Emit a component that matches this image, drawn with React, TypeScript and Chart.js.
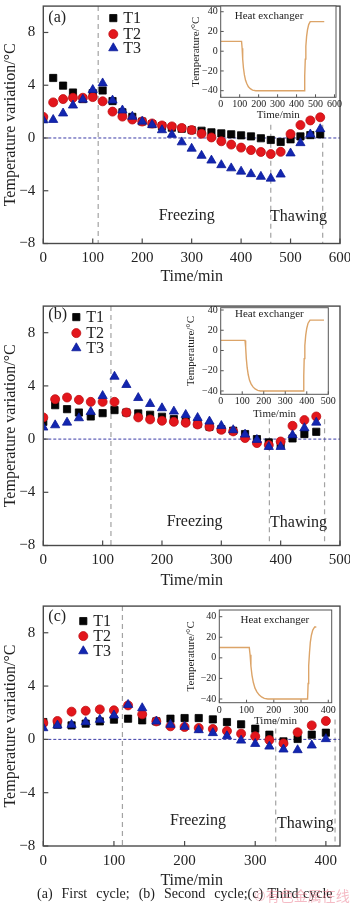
import React, { useEffect, useRef } from "react";
import { Chart, registerables } from "chart.js";

Chart.register(...registerables);

const FONT = '"Liberation Serif", "Times New Roman", Times, serif';
const TEXT = "#222";

// ---------------- data: main panels ----------------
const TIME_A = [0, 20, 40, 60, 80, 100, 120, 140, 160, 180, 200, 220, 240, 260, 280, 300, 320, 340, 360, 380, 400, 420, 440, 460, 480, 500, 520, 540, 560];
const T1_A = [1.45, 4.55, 3.97, 3.45, 2.95, 3.4, 3.6, 2.8, 1.95, 1.6, 1.25, 1.05, 0.9, 0.78, 0.7, 0.6, 0.55, 0.43, 0.35, 0.28, 0.2, 0.12, -0.02, -0.15, -0.3, -0.1, 0.12, 0.22, 0.28];
const T2_A = [1.6, 2.7, 2.95, 3.05, 3.05, 3.1, 2.78, 2.0, 1.62, 1.4, 1.25, 1.1, 0.95, 0.88, 0.76, 0.6, 0.32, 0.04, -0.25, -0.5, -0.73, -0.92, -1.06, -1.22, -1.05, 0.3, 0.98, 1.33, 1.57];
const T3_A = [1.35, 1.38, 1.87, 2.47, 2.92, 3.65, 4.15, 2.85, 2.1, 1.62, 1.25, 1.0, 0.6, 0.25, -0.32, -0.8, -1.34, -1.7, -2.05, -2.29, -2.54, -2.73, -2.93, -3.07, -2.76, -1.16, -0.38, 0.28, 0.68];

const TIME_B = [0, 20, 40, 60, 80, 100, 120, 140, 160, 180, 200, 220, 240, 260, 280, 300, 320, 340, 360, 380, 400, 420, 440, 460];
const T1_B = [1.3, 2.55, 2.25, 2.0, 1.7, 1.95, 2.18, 2.0, 1.93, 1.83, 1.68, 1.5, 1.33, 1.13, 0.93, 0.75, 0.63, 0.38, 0.0, -0.25, -0.43, 0.05, 0.38, 0.55];
const T2_B = [1.63, 3.0, 3.13, 2.95, 2.8, 2.8, 2.8, 2.0, 1.63, 1.48, 1.38, 1.3, 1.23, 1.1, 0.93, 0.7, 0.58, 0.08, -0.3, -0.45, -0.18, 1.0, 1.43, 1.7];
const T3_B = [0.88, 1.05, 1.25, 1.58, 2.05, 3.25, 4.7, 4.08, 3.1, 2.65, 2.33, 2.08, 1.83, 1.6, 1.33, 1.0, 0.68, 0.35, -0.05, -0.58, -0.58, 0.3, 0.83, 1.25];

const TIME_C = [0, 20, 40, 60, 80, 100, 120, 140, 160, 180, 200, 220, 240, 260, 280, 300, 320, 340, 360, 380, 400];
const T1_C = [1.3, 1.1, 1.05, 1.18, 1.35, 1.48, 1.55, 1.43, 1.35, 1.55, 1.6, 1.6, 1.5, 1.3, 1.13, 0.8, 0.35, -0.15, 0.03, 0.35, 0.5];
const T2_C = [1.23, 1.38, 2.08, 2.15, 2.25, 2.18, 2.55, 1.88, 1.35, 0.98, 0.93, 0.85, 0.78, 0.63, 0.43, 0.23, -0.05, -0.3, 0.53, 1.05, 1.38];
const T3_C = [0.85, 1.05, 1.1, 1.3, 1.48, 1.8, 2.6, 2.35, 1.35, 1.1, 0.95, 0.7, 0.48, 0.25, -0.08, -0.33, -0.53, -0.75, -0.8, -0.45, 0.03];

const X_TICKS_A = [0, 100, 200, 300, 400, 500, 600];
const X_TICKS_B = [0, 100, 200, 300, 400, 500];
const X_TICKS_C = [0, 100, 200, 300, 400];
const Y_TICKS = [-8, -4, 0, 4, 8];

const SERIES_NAMES = ["T1", "T2", "T3"];
const PANEL_LABELS = ["(a)", "(b)", "(c)"];
const PHASE_LABELS = ["Freezing", "Thawing"];

// phase boundary times (dashed lines)
const BOUNDS_A = [111, 460, 565];
const BOUNDS_B = [114, 381, 474];
const BOUNDS_C = [112, 329, 413];

// ---------------- data: heat exchanger insets ----------------
const HX_TIME_A = [0, 110, 113, 116, 120, 125, 131, 138, 146, 156, 168, 185, 440, 443, 446, 449, 453, 458, 464, 472, 546];
const HX_TEMP_A = [10, 10, 3, -8, -17, -24, -29.5, -33, -36, -38, -39.4, -40, -40, -25, -8, 5, 15, 22, 27, 30, 30];
const HX_TIME_B = [0, 113, 116, 119, 123, 128, 134, 141, 150, 160, 172, 185, 384, 386, 388, 391, 395, 400, 406, 415, 480];
const HX_TEMP_B = [10, 10, 3, -8, -17, -24, -29.5, -33, -36, -38, -39.4, -40, -40, -25, -8, 5, 15, 22, 27, 30, 30];
const HX_TIME_C = [0, 110, 113, 116, 120, 125, 131, 138, 146, 155, 165, 178, 324, 326, 328, 331, 334, 338, 343, 350, 356];
const HX_TEMP_C = [10, 10, 3, -8, -17, -24, -29.5, -33, -36, -38, -39.4, -40, -40, -25, -8, 5, 15, 22, 27, 30, 30];

const INSET_X_TICKS_A = [0, 100, 200, 300, 400, 500, 600];
const INSET_X_TICKS_B = [0, 100, 200, 300, 400, 500];
const INSET_X_TICKS_C = [0, 100, 200, 300, 400];
const INSET_Y_TICKS = [-40, -20, 0, 20, 40];
const INSET_TITLE = "Heat exchanger";

const CAPTION = "(a)  First  cycle;  (b)  Second  cycle;(c) Third cycle";
const WATERMARK = "©有色金属在线";

// ---------------- styles / layout ----------------
const SERIES_STYLE = [
  { style: "rect", r: 5.1, fill: "#050505", stroke: "#000000" },
  { style: "circle", r: 4.5, fill: "#e3161c", stroke: "#c00e12" },
  { style: "triangle", r: 5.3, fill: "#1226b0", stroke: "#0c1a98" },
];

const PANELS = [
  {
    time: TIME_A, series: [T1_A, T2_A, T3_A], xTicks: X_TICKS_A, xMax: 600, bounds: BOUNDS_A, boundTop: 1.0,
    label: PANEL_LABELS[0], top: 0, h: 286, padTop: 2, xAxisH: 42.5,
    legend: { dx: 70, dy: [12, 28, 42] }, labelDy: 12,
    phasePos: [[290, -5.9], [516, -6.0]],
  },
  {
    time: TIME_B, series: [T1_B, T2_B, T3_B], xTicks: X_TICKS_B, xMax: 500, bounds: BOUNDS_B, boundTop: 1.5,
    label: PANEL_LABELS[1], top: 300, h: 290, padTop: 3.8, xAxisH: 44.5,
    legend: { dx: 33, dy: [11, 27, 42] }, labelDy: 9,
    phasePos: [[255, -6.2], [430, -6.3]],
  },
  {
    time: TIME_C, series: [T1_C, T2_C, T3_C], xTicks: X_TICKS_C, xMax: 420, bounds: BOUNDS_C, boundTop: 1.5,
    label: PANEL_LABELS[2], top: 600, h: 290, padTop: 6, xAxisH: 44,
    legend: { dx: 40, dy: [15, 30, 45] }, labelDy: 11,
    phasePos: [[219, -6.1], [371, -6.3]],
  },
];

const INSETS = [
  { time: HX_TIME_A, temp: HX_TEMP_A, xTicks: INSET_X_TICKS_A, xMax: 608, yMin: -46.7, yMax: 45.8,
    left: 190, top: 0, w: 160, h: 122, yAxisW: 30.7, padRight: 14, padTop: 6, xAxisH: 24.7, titlePos: [255, 36] },
  { time: HX_TIME_B, temp: HX_TEMP_B, xTicks: INSET_X_TICKS_B, xMax: 500, yMin: -43.3, yMax: 42.3,
    left: 185, top: 300, w: 165, h: 121, yAxisW: 35.7, padRight: 21.7, padTop: 7.7, xAxisH: 26.7, titlePos: [226, 36] },
  { time: HX_TIME_C, temp: HX_TEMP_C, xTicks: INSET_X_TICKS_C, xMax: 412.5, yMin: -43.6, yMax: 46.5,
    left: 185, top: 600, w: 165, h: 128, yAxisW: 34.3, padRight: 18.3, padTop: 10, xAxisH: 25.3, titlePos: [204, 36.8] },
];

function drawMarker(ctx: CanvasRenderingContext2D, s: any, x: number, y: number) {
  ctx.beginPath();
  const r = s.r;
  if (s.style === "rect") {
    const h = r * Math.SQRT1_2;
    ctx.rect(x - h, y - h, 2 * h, 2 * h);
  } else if (s.style === "circle") {
    ctx.arc(x, y, r, 0, Math.PI * 2);
  } else {
    ctx.moveTo(x, y - r);
    ctx.lineTo(x + r * 0.866, y + r * 0.5);
    ctx.lineTo(x - r * 0.866, y + r * 0.5);
    ctx.closePath();
  }
  ctx.fillStyle = s.fill;
  ctx.strokeStyle = s.stroke;
  ctx.lineWidth = 0.8;
  ctx.fill();
  ctx.stroke();
}

function makePanelPlugin(cfg: any) {
  return {
    id: "panelDecor",
    beforeDatasetsDraw(chart: any) {
      const { ctx, chartArea: ca, scales } = chart;
      const x = scales.x, y = scales.y;
      ctx.save();
      ctx.strokeStyle = "#a3a3a3";
      ctx.lineWidth = 1.2;
      ctx.setLineDash([5, 4]);
      cfg.bounds.forEach((b: number, i: number) => {
        const px = x.getPixelForValue(b);
        ctx.beginPath();
        ctx.moveTo(px, i === 0 ? ca.top : y.getPixelForValue(cfg.boundTop));
        ctx.lineTo(px, ca.bottom);
        ctx.stroke();
      });
      ctx.strokeStyle = "#3a3aa6";
      ctx.lineWidth = 1;
      ctx.setLineDash([3, 2]);
      const py = y.getPixelForValue(0);
      ctx.beginPath();
      ctx.moveTo(x.getPixelForValue(0), py);
      ctx.lineTo(ca.right, py);
      ctx.stroke();
      ctx.restore();
    },
    afterDatasetsDraw(chart: any) {
      const { ctx, chartArea: ca, scales } = chart;
      const x = scales.x, y = scales.y;
      ctx.save();
      ctx.strokeStyle = "#4a4a4a";
      ctx.lineWidth = 1.4;
      ctx.strokeRect(ca.left, ca.top, ca.right - ca.left, ca.bottom - ca.top);
      ctx.lineWidth = 1.2;
      cfg.xTicks.forEach((t: number) => {
        const px = x.getPixelForValue(t);
        ctx.beginPath();
        ctx.moveTo(px, ca.bottom);
        ctx.lineTo(px, ca.bottom - 5);
        ctx.stroke();
      });
      Y_TICKS.forEach((t: number) => {
        const pv = y.getPixelForValue(t);
        ctx.beginPath();
        ctx.moveTo(ca.left, pv);
        ctx.lineTo(ca.left + 5, pv);
        ctx.stroke();
      });
      ctx.fillStyle = TEXT;
      ctx.font = `normal 16px ${FONT}`;
      ctx.textAlign = "center";
      ctx.textBaseline = "middle";
      PHASE_LABELS.forEach((lab, i) => {
        const [tx, ty] = cfg.phasePos[i];
        ctx.fillText(lab, x.getPixelForValue(tx), y.getPixelForValue(ty));
      });
      ctx.textAlign = "left";
      ctx.fillText(cfg.label, ca.left + 5, ca.top + cfg.labelDy);
      SERIES_NAMES.forEach((name, i) => {
        const mx = ca.left + cfg.legend.dx;
        const my = ca.top + cfg.legend.dy[i];
        drawMarker(ctx, SERIES_STYLE[i], mx, my);
        ctx.fillStyle = TEXT;
        ctx.textAlign = "left";
        ctx.fillText(name, mx + 10, my + 1);
      });
      ctx.restore();
    },
  };
}

function MainPanel({ cfg }: { cfg: any }) {
  const ref = useRef<HTMLCanvasElement>(null);
  useEffect(() => {
    if (!ref.current) return;
    const datasets = cfg.series.map((vals: number[], i: number) => ({
      label: SERIES_NAMES[i],
      data: cfg.time.map((t: number, k: number) => ({ x: t, y: vals[k] })),
      pointStyle: SERIES_STYLE[i].style,
      pointRadius: SERIES_STYLE[i].r,
      pointHoverRadius: SERIES_STYLE[i].r,
      backgroundColor: SERIES_STYLE[i].fill,
      borderColor: SERIES_STYLE[i].stroke,
      pointBorderWidth: 0.8,
      order: 3 - i,
    }));
    const chart = new Chart(ref.current, {
      type: "scatter",
      data: { datasets },
      options: {
        responsive: false,
        animation: false,
        events: [],
        layout: { padding: { top: cfg.padTop, right: 10, left: 0, bottom: 0 } },
        plugins: { legend: { display: false }, tooltip: { enabled: false } },
        scales: {
          x: {
            type: "linear",
            min: 0,
            max: cfg.xMax,
            afterBuildTicks: (s: any) => { s.ticks = cfg.xTicks.map((v: number) => ({ value: v })); },
            afterFit: (s: any) => { s.height = cfg.xAxisH; s.paddingLeft = 0; s.paddingRight = 0; },
            grid: { display: false, drawTicks: false },
            border: { display: false },
            ticks: { padding: 6, color: TEXT, font: { family: FONT, size: 15, weight: "normal" }, maxRotation: 0, autoSkip: false },
            title: { display: true, text: "Time/min", color: TEXT, font: { family: FONT, size: 16, weight: "normal" }, padding: 0 },
          },
          y: {
            type: "linear",
            min: -8,
            max: 10,
            afterBuildTicks: (s: any) => { s.ticks = Y_TICKS.map((v) => ({ value: v })); },
            afterFit: (s: any) => { s.width = 43.3; s.paddingTop = 0; s.paddingBottom = 0; },
            grid: { display: false, drawTicks: false },
            border: { display: false },
            ticks: {
              padding: 8, color: TEXT, font: { family: FONT, size: 15, weight: "normal" },
              callback: (v: any) => String(v).replace("-", "\u2212"),
            },
            title: { display: true, text: "Temperature variation/°C", color: TEXT, font: { family: FONT, size: 16, weight: "normal" }, padding: { top: 1, bottom: 0 } },
          },
        },
      } as any,
      plugins: [makePanelPlugin(cfg)],
    });
    return () => chart.destroy();
  }, []);
  return (
    <canvas
      ref={ref}
      width={350}
      height={cfg.h}
      style={{ position: "absolute", left: 0, top: cfg.top, width: 350, height: cfg.h }}
    />
  );
}

function makeInsetPlugin(cfg: any) {
  return {
    id: "insetDecor",
    beforeDatasetsDraw(chart: any) {
      const { ctx, chartArea: ca } = chart;
      ctx.save();
      ctx.fillStyle = "#ffffff";
      ctx.fillRect(ca.left, ca.top, ca.right - ca.left, ca.bottom - ca.top);
      ctx.restore();
    },
    afterDatasetsDraw(chart: any) {
      const { ctx, chartArea: ca, scales } = chart;
      const x = scales.x, y = scales.y;
      ctx.save();
      ctx.strokeStyle = "#555";
      ctx.lineWidth = 1;
      ctx.strokeRect(ca.left, ca.top, ca.right - ca.left, ca.bottom - ca.top);
      cfg.xTicks.forEach((t: number) => {
        const px = x.getPixelForValue(t);
        ctx.beginPath();
        ctx.moveTo(px, ca.bottom);
        ctx.lineTo(px, ca.bottom - 3);
        ctx.stroke();
      });
      INSET_Y_TICKS.forEach((t: number) => {
        const pv = y.getPixelForValue(t);
        ctx.beginPath();
        ctx.moveTo(ca.left, pv);
        ctx.lineTo(ca.left + 3, pv);
        ctx.stroke();
      });
      ctx.fillStyle = TEXT;
      ctx.font = `normal 11px ${FONT}`;
      ctx.textAlign = "center";
      ctx.textBaseline = "middle";
      ctx.fillText(INSET_TITLE, x.getPixelForValue(cfg.titlePos[0]), y.getPixelForValue(cfg.titlePos[1]));
      ctx.restore();
    },
  };
}

function Inset({ cfg }: { cfg: any }) {
  const ref = useRef<HTMLCanvasElement>(null);
  useEffect(() => {
    if (!ref.current) return;
    const chart = new Chart(ref.current, {
      type: "line",
      data: {
        datasets: [
          {
            label: "Heat exchanger",
            data: cfg.time.map((t: number, k: number) => ({ x: t, y: cfg.temp[k] })),
            borderColor: "#dca468",
            borderWidth: 1.4,
            pointRadius: 0,
            tension: 0,
            fill: false,
          },
        ],
      },
      options: {
        responsive: false,
        animation: false,
        events: [],
        layout: { padding: { top: cfg.padTop, right: cfg.padRight, left: 0, bottom: 0 } },
        plugins: { legend: { display: false }, tooltip: { enabled: false } },
        scales: {
          x: {
            type: "linear",
            min: 0,
            max: cfg.xMax,
            afterBuildTicks: (s: any) => { s.ticks = cfg.xTicks.map((v: number) => ({ value: v })); },
            afterFit: (s: any) => { s.height = cfg.xAxisH; s.paddingLeft = 0; s.paddingRight = 0; },
            grid: { display: false, drawTicks: false },
            border: { display: false },
            ticks: { padding: 1.5, color: TEXT, font: { family: FONT, size: 10, weight: "normal" }, maxRotation: 0, autoSkip: false },
            title: { display: true, text: "Time/min", color: TEXT, font: { family: FONT, size: 11, weight: "normal" }, padding: 0 },
          },
          y: {
            type: "linear",
            min: cfg.yMin,
            max: cfg.yMax,
            afterBuildTicks: (s: any) => { s.ticks = INSET_Y_TICKS.map((v) => ({ value: v })); },
            afterFit: (s: any) => { s.width = cfg.yAxisW; s.paddingTop = 0; s.paddingBottom = 0; },
            grid: { display: false, drawTicks: false },
            border: { display: false },
            ticks: {
              padding: 3, color: TEXT, font: { family: FONT, size: 10, weight: "normal" },
              callback: (v: any) => String(v).replace("-", "\u2212"),
            },
            title: { display: true, text: "Temperature/°C", color: TEXT, font: { family: FONT, size: 11, weight: "normal" }, padding: 0 },
          },
        },
      } as any,
      plugins: [makeInsetPlugin(cfg)],
    });
    return () => chart.destroy();
  }, []);
  return (
    <canvas
      ref={ref}
      width={cfg.w}
      height={cfg.h}
      style={{ position: "absolute", left: cfg.left, top: cfg.top, width: cfg.w, height: cfg.h }}
    />
  );
}

export default function App() {
  return (
    <div style={{ position: "absolute", left: 0, top: 0, width: 350, height: 907, background: "#fff", overflow: "hidden" }}>
      {PANELS.map((p, i) => (
        <MainPanel key={"p" + i} cfg={p} />
      ))}
      {INSETS.map((p, i) => (
        <Inset key={"i" + i} cfg={p} />
      ))}
      <div
        style={{
          position: "absolute", left: 37, top: 885, fontFamily: FONT, fontSize: 14, lineHeight: "18px",
          whiteSpace: "pre", color: TEXT, wordSpacing: 1,
        }}
      >
        {CAPTION}
      </div>
      <div
        style={{
          position: "absolute", left: 254, top: 886, fontFamily: '"Noto Sans CJK SC", sans-serif', fontSize: 14,
          lineHeight: "18px", whiteSpace: "pre", color: "rgba(236,120,140,0.5)",
        }}
      >
        {WATERMARK}
      </div>
    </div>
  );
}
